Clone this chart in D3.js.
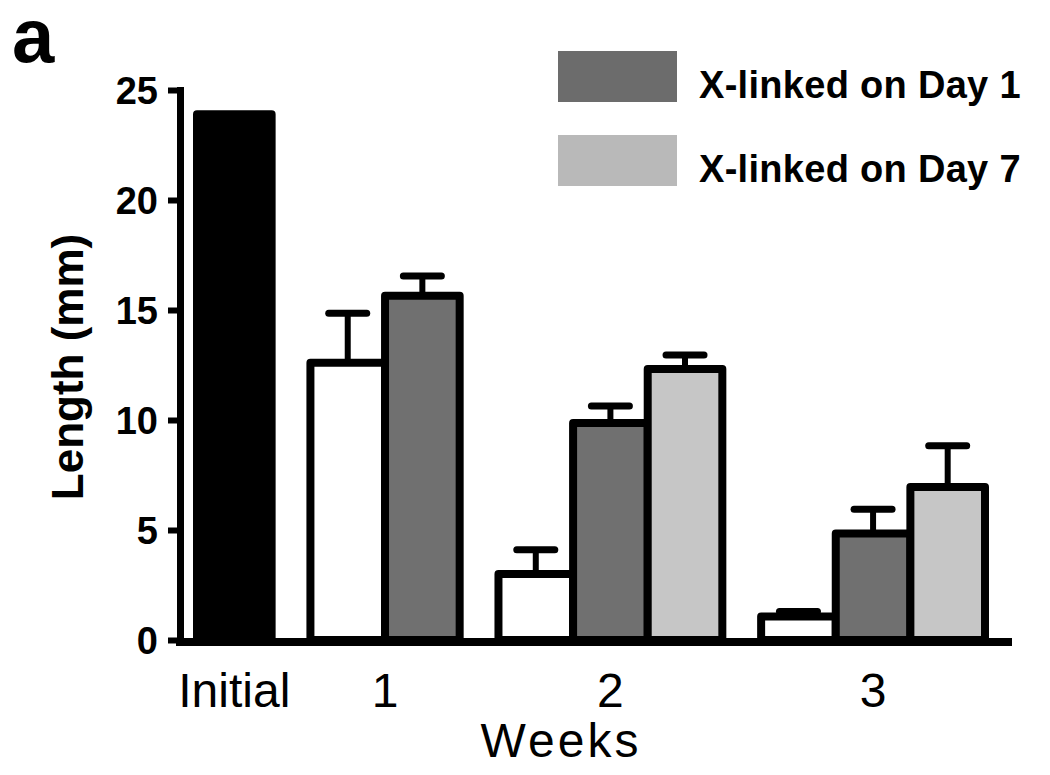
<!DOCTYPE html>
<head>
  <meta charset="utf-8">
  <script src="https://d3js.org/d3.v7.min.js"></script>
  <style>
    body { margin:0; background:#fff; }
    text { font-family: "Liberation Sans", Arial, sans-serif; fill:#000; }
  </style>
</head>
<body>
  <script>
    // values (mm)
    var groups = ["Initial", "1", "2", "3"];
    var initialLength = 23.9;
    var untreated    = [12.6, 3.0, 1.07];
    var untreatedErr = [2.25, 1.1, 0.22];
    var day1         = [15.65, 9.86, 4.84];
    var day1Err      = [0.9, 0.78, 1.1];
    var day7         = [null, 12.32, 6.95];
    var day7Err      = [null, 0.63, 1.88];
    var yTicks = [0, 5, 10, 15, 20, 25];
    var legendLabels = ["X-linked on Day 1", "X-linked on Day 7"];

    var fills = { initial: "#000", untreated: "#fff", day1: "#707070", day7: "#c6c6c6" };
    var legendFills = ["#6c6c6c", "#b9b9b9"];

    // flatten into bars, each bar = 1 unit wide, gap between groups
    var gapUnits = 0.52;
    var bars = [];
    var groupSpan = [];
    var u = 0;
    bars.push({ group: "Initial", key: "initial", value: initialLength, err: null, u: u });
    groupSpan.push([u, u + 1]);
    u += 1;
    for (var i = 0; i < 3; i++) {
      u += gapUnits;
      var start = u;
      [["untreated", untreated, untreatedErr], ["day1", day1, day1Err], ["day7", day7, day7Err]]
        .forEach(function(s) {
          if (s[1][i] == null) return;
          bars.push({ group: groups[i + 1], key: s[0], value: s[1][i], err: s[2][i], u: u });
          u += 1;
        });
      groupSpan.push([start, u]);
    }

    var svg = d3.select("body").append("svg").attr("width", 1050).attr("height", 775);

    var x = d3.scaleLinear().domain([0, u]).range([197, 985]);
    var y = d3.scaleLinear().domain([0, 25]).range([640, 90]);

    // bars
    svg.selectAll("rect.bar").data(bars).enter().append("rect")
      .attr("class", "bar")
      .attr("x", function(d) { return x(d.u); })
      .attr("width", function(d) { return x(d.u + 1) - x(d.u); })
      .attr("y", function(d) { return y(d.value); })
      .attr("height", function(d) { return y(0) - y(d.value); })
      .attr("fill", function(d) { return fills[d.key]; })
      .attr("stroke", "#000")
      .attr("stroke-width", 8)
      .attr("stroke-linejoin", "round");

    // error bars (upper only)
    var eb = svg.selectAll("g.err").data(bars.filter(function(d) { return d.err; }))
      .enter().append("g").attr("class", "err");
    eb.append("line")
      .attr("x1", function(d) { return x(d.u + 0.5); })
      .attr("x2", function(d) { return x(d.u + 0.5); })
      .attr("y1", function(d) { return y(d.value); })
      .attr("y2", function(d) { return y(d.value + d.err); })
      .attr("stroke", "#000").attr("stroke-width", 6);
    eb.append("line")
      .attr("x1", function(d) { return x(d.u + 0.5) - 19; })
      .attr("x2", function(d) { return x(d.u + 0.5) + 19; })
      .attr("y1", function(d) { return y(d.value + d.err); })
      .attr("y2", function(d) { return y(d.value + d.err); })
      .attr("stroke", "#000").attr("stroke-width", 7).attr("stroke-linecap", "round");

    // y axis
    var yAxis = svg.append("g").attr("transform", "translate(180,0)")
      .call(d3.axisLeft(y).tickValues(yTicks).tickSize(12).tickSizeOuter(0).tickPadding(10));
    yAxis.select(".domain").attr("stroke-width", 7).attr("stroke-linecap", "square");
    yAxis.selectAll(".tick line").attr("stroke-width", 6);
    yAxis.selectAll(".tick text")
      .style("font-size", "38px").style("font-weight", "bold")
      .attr("dy", "0.36em");

    // x axis line
    svg.append("line")
      .attr("x1", 176).attr("x2", 1012)
      .attr("y1", y(0) + 2).attr("y2", y(0) + 2)
      .attr("stroke", "#000").attr("stroke-width", 8);

    // group labels
    svg.selectAll("text.xlab").data(groups).enter().append("text")
      .attr("class", "xlab")
      .attr("x", function(d, i) { return x((groupSpan[i][0] + groupSpan[i][1]) / 2); })
      .attr("y", 707)
      .attr("text-anchor", "middle")
      .style("font-size", "48px")
      .text(function(d) { return d; });

    svg.append("text")
      .attr("x", 561).attr("y", 757)
      .attr("text-anchor", "middle")
      .style("font-size", "48px").style("letter-spacing", "3px")
      .text("Weeks");

    svg.append("text")
      .attr("transform", "translate(83,367) rotate(-90)")
      .attr("text-anchor", "middle")
      .style("font-size", "44px").style("font-weight", "bold")
      .text("Length (mm)");

    svg.append("text")
      .attr("x", 12).attr("y", 62)
      .style("font-size", "76px").style("font-weight", "bold")
      .text("a");

    // legend
    var leg = svg.selectAll("g.leg").data(legendLabels).enter().append("g")
      .attr("class", "leg")
      .attr("transform", function(d, i) { return "translate(558," + (51 + i * 84) + ")"; });
    leg.append("rect")
      .attr("width", 119).attr("height", 51)
      .attr("fill", function(d, i) { return legendFills[i]; });
    leg.append("text")
      .attr("x", 141).attr("y", 47)
      .style("font-size", "38px").style("font-weight", "bold").style("letter-spacing", "0.3px")
      .text(function(d) { return d; });
  </script>
</body>
